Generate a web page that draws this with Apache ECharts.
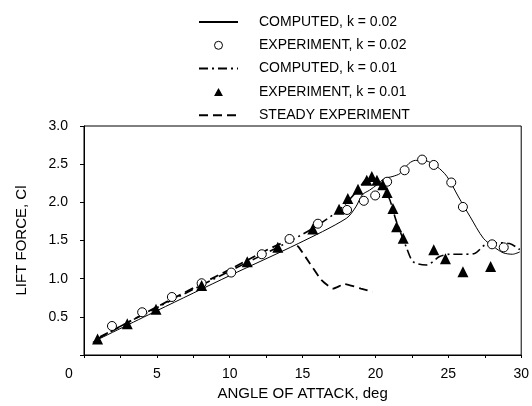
<!DOCTYPE html>
<html>
<head>
<meta charset="utf-8">
<script src="https://cdn.jsdelivr.net/npm/echarts@6/dist/echarts.min.js"></script>
<style>
  html, body { margin: 0; padding: 0; background: #fff; }
  #chart { width: 532px; height: 406px; }
</style>
</head>
<body>
<div id="chart"></div>
<script>
// 图例名称
var names = ['COMPUTED, k = 0.02', 'EXPERIMENT, k = 0.02', 'COMPUTED, k = 0.01', 'EXPERIMENT, k = 0.01', 'STEADY EXPERIMENT'];

// 计算值 k = 0.02 (实线)
var comp02X = [0.6, 5, 10, 14.7, 18.0, 18.65, 19.1, 19.6, 20.1, 20.6, 21.2, 21.7, 22.3, 22.75, 23.3, 24.2, 24.9, 25.7, 26.5, 27.4, 28.1, 28.75, 29.4, 29.9];
var comp02Y = [0.17, 0.58, 1.04, 1.46, 1.79, 1.94, 2.10, 2.16, 2.23, 2.31, 2.34, 2.38, 2.51, 2.55, 2.55, 2.47, 2.34, 2.07, 1.81, 1.53, 1.42, 1.34, 1.32, 1.35];

// 实验值 k = 0.02 (空心圆)
var exp02X = [1.92, 3.99, 6.03, 8.07, 10.1, 12.2, 14.1, 16.05, 18.05, 19.2, 19.98, 20.8, 22.0, 23.2, 24.0, 25.2, 26.0, 28.0, 28.8];
var exp02Y = [0.38, 0.56, 0.76, 0.94, 1.08, 1.32, 1.52, 1.72, 1.90, 2.02, 2.09, 2.27, 2.42, 2.56, 2.49, 2.26, 1.94, 1.45, 1.41];

// 计算值 k = 0.01 (点划线)
var comp01X = [1.1, 5, 10, 13.6, 15.7, 17.5, 18.8, 19.45, 20.1, 20.9, 21.4, 22.1, 22.6, 23.5, 24.4, 25.1, 26.0, 26.8, 27.5, 28.3, 29.2, 29.9];
var comp01Y = [0.24, 0.62, 1.10, 1.44, 1.66, 1.90, 2.16, 2.31, 2.27, 2.07, 1.77, 1.42, 1.22, 1.18, 1.29, 1.32, 1.32, 1.33, 1.44, 1.47, 1.46, 1.38];

// 实验值 k = 0.01 (实心三角)
var exp01X = [0.93, 2.97, 4.94, 8.07, 11.2, 13.3, 15.7, 17.5, 18.1, 18.8, 19.4, 19.75, 20.1, 20.5, 20.8, 21.2, 21.45, 21.9, 24.0, 24.8, 26.0, 27.9];
var exp01Y = [0.21, 0.41, 0.60, 0.91, 1.22, 1.41, 1.65, 1.91, 2.05, 2.17, 2.29, 2.34, 2.29, 2.23, 2.13, 1.92, 1.68, 1.53, 1.38, 1.26, 1.09, 1.16];

// 定常实验 (虚线)
var steadyX = [1.0, 5, 10, 14.2, 14.7, 15.5, 16.3, 17.1, 17.9, 19.0, 19.8];
var steadyY = [0.22, 0.63, 1.12, 1.50, 1.42, 1.20, 0.98, 0.87, 0.93, 0.87, 0.83];

// 把 x 数组和 y 数组拼成 [x, y]
function pairs(xs, ys) {
    return xs.map(function (x, i) { return [x, ys[i]]; });
}

var font = 'Liberation Sans, Arial, sans-serif';
var chart = echarts.init(document.getElementById('chart'));

// 线条的图例不要中间那个小圆点
var noDot = { opacity: 0, color: 'transparent', borderWidth: 0 };

var option = {
    backgroundColor: '#fff',
    animation: false,
    legend: {
        orient: 'vertical',
        left: 198,
        top: 15,
        padding: 0,
        itemWidth: 39,
        itemHeight: 8,
        itemGap: 9.3,
        symbolKeepAspect: true,
        data: [
            { name: names[0], itemStyle: noDot },
            { name: names[1], itemStyle: { color: '#fff', borderColor: '#000', borderWidth: 1 } },
            { name: names[2], itemStyle: noDot },
            { name: names[3], icon: 'path://M5,0L10,9L0,9Z' }, // 三角形保持比例
            { name: names[4], itemStyle: noDot }
        ],
        textStyle: { fontFamily: font, fontSize: 14, color: '#000', padding: [0, 0, 0, 16] }
    },
    grid: {
        left: 84, right: 7, top: 126, bottom: 51,
        show: true, borderColor: '#000', borderWidth: 1
    },
    xAxis: {
        type: 'value',
        min: 0, max: 30, interval: 2.5,
        name: 'ANGLE OF ATTACK, deg',
        nameLocation: 'middle',
        nameGap: 31,
        nameTextStyle: { fontFamily: font, fontSize: 15, color: '#000' },
        axisLine: { lineStyle: { color: '#000', width: 1 } },
        axisTick: { inside: false, length: 3, lineStyle: { color: '#000' } },
        axisLabel: {
            margin: 12,
            fontFamily: font, fontSize: 14, color: '#000',
            formatter: function (v) {
                if (v === 0) return '{zero|0}';
                return v % 5 === 0 ? String(v) : '';
            },
            rich: { zero: { fontFamily: font, fontSize: 14, color: '#000', padding: [0, 30, 0, 0] } }
        },
        splitLine: { show: false }
    },
    yAxis: {
        type: 'value',
        min: 0, max: 3, interval: 0.5,
        name: 'LIFT FORCE, Cl',
        nameLocation: 'middle',
        nameGap: 55,
        nameTextStyle: { fontFamily: font, fontSize: 15, color: '#000' },
        axisLine: { lineStyle: { color: '#000', width: 1 } },
        axisTick: { inside: false, length: 4, lineStyle: { color: '#000' } },
        axisLabel: {
            margin: 16,
            fontFamily: font, fontSize: 14, color: '#000',
            formatter: function (v) { return v === 0 ? '' : v.toFixed(1); }
        },
        splitLine: { show: false }
    },
    series: [
        {
            name: names[0], type: 'line', smooth: 0.3, symbol: 'none',
            data: pairs(comp02X, comp02Y),
            lineStyle: { color: '#000', width: 1 },
            itemStyle: { color: '#000' }, z: 2
        },
        {
            name: names[1], type: 'scatter', symbol: 'circle', symbolSize: 9,
            data: pairs(exp02X, exp02Y),
            itemStyle: { color: '#fff', borderColor: '#000', borderWidth: 1, opacity: 1 }, z: 4
        },
        {
            name: names[2], type: 'line', smooth: 0.3, symbol: 'none',
            data: pairs(comp01X, comp01Y),
            lineStyle: { color: '#000', width: 1.6, type: [9, 4, 2, 4] },
            itemStyle: { color: '#000' }, z: 2
        },
        {
            name: names[3], type: 'scatter', symbol: 'triangle', symbolSize: 11,
            data: pairs(exp01X, exp01Y),
            itemStyle: { color: '#000', opacity: 1 }, z: 5
        },
        {
            name: names[4], type: 'line', smooth: 0.15, symbol: 'none',
            data: pairs(steadyX, steadyY),
            lineStyle: { color: '#000', width: 1.8, type: [9, 5] },
            itemStyle: { color: '#000' }, z: 2
        }
    ]
};

chart.setOption(option);
</script>
</body>
</html>
